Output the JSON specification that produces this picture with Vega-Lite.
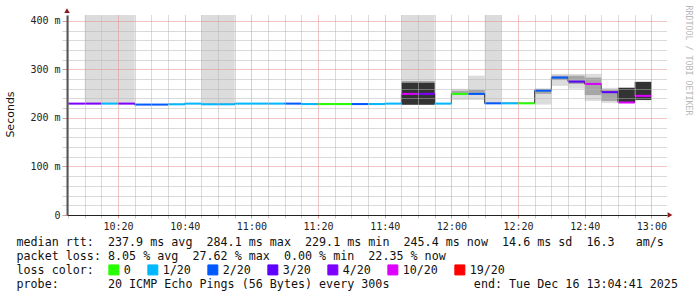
{
  "$schema": "https://vega.github.io/schema/vega-lite/v6.json",
  "width": 600,
  "height": 200,
  "autosize": "none",
  "padding": {"left": 67, "top": 15, "right": 30, "bottom": 82},
  "background": "white",
  "config": {
    "view": {"stroke": null},
    "font": "DejaVu Sans Mono",
    "axis": {"labelFont": "DejaVu Sans Mono", "titleFont": "DejaVu Sans Mono", "titleFontWeight": "normal", "labelColor": "#222", "titleColor": "#111"}
  },
  "data": {
    "values": [
      {"t": "2025-12-16T10:05:00", "t2": "2025-12-16T10:10:00", "median": 229.5, "loss": "4/20"},
      {"t": "2025-12-16T10:10:00", "t2": "2025-12-16T10:15:00", "median": 229.5, "loss": "4/20", "lo": 229.5, "hi": 412},
      {"t": "2025-12-16T10:15:00", "t2": "2025-12-16T10:20:00", "median": 229.5, "loss": "1/20", "lo": 229.5, "hi": 412},
      {"t": "2025-12-16T10:20:00", "t2": "2025-12-16T10:25:00", "median": 229.5, "loss": "4/20", "lo": 229.5, "hi": 412},
      {"t": "2025-12-16T10:25:00", "t2": "2025-12-16T10:30:00", "median": 227.5, "loss": "2/20"},
      {"t": "2025-12-16T10:30:00", "t2": "2025-12-16T10:35:00", "median": 227.5, "loss": "2/20"},
      {"t": "2025-12-16T10:35:00", "t2": "2025-12-16T10:40:00", "median": 228.0, "loss": "1/20"},
      {"t": "2025-12-16T10:40:00", "t2": "2025-12-16T10:45:00", "median": 229.5, "loss": "1/20"},
      {"t": "2025-12-16T10:45:00", "t2": "2025-12-16T10:50:00", "median": 228.0, "loss": "1/20", "lo": 228.0, "hi": 412},
      {"t": "2025-12-16T10:50:00", "t2": "2025-12-16T10:55:00", "median": 228.0, "loss": "1/20", "lo": 228.0, "hi": 412},
      {"t": "2025-12-16T10:55:00", "t2": "2025-12-16T11:00:00", "median": 229.5, "loss": "1/20"},
      {"t": "2025-12-16T11:00:00", "t2": "2025-12-16T11:05:00", "median": 229.5, "loss": "1/20"},
      {"t": "2025-12-16T11:05:00", "t2": "2025-12-16T11:10:00", "median": 229.5, "loss": "1/20"},
      {"t": "2025-12-16T11:10:00", "t2": "2025-12-16T11:15:00", "median": 229.5, "loss": "2/20"},
      {"t": "2025-12-16T11:15:00", "t2": "2025-12-16T11:20:00", "median": 228.5, "loss": "1/20"},
      {"t": "2025-12-16T11:20:00", "t2": "2025-12-16T11:25:00", "median": 228.5, "loss": "0"},
      {"t": "2025-12-16T11:25:00", "t2": "2025-12-16T11:30:00", "median": 228.5, "loss": "0"},
      {"t": "2025-12-16T11:30:00", "t2": "2025-12-16T11:35:00", "median": 228.5, "loss": "2/20"},
      {"t": "2025-12-16T11:35:00", "t2": "2025-12-16T11:40:00", "median": 228.5, "loss": "1/20"},
      {"t": "2025-12-16T11:40:00", "t2": "2025-12-16T11:45:00", "median": 229.5, "loss": "1/20"},
      {"t": "2025-12-16T11:45:00", "t2": "2025-12-16T11:50:00", "median": 249.5, "loss": "10/20", "lo": 276.3, "hi": 412, "mlo": 272.8, "mhi": 276.3, "dlo": 227.0, "dhi": 272.8},
      {"t": "2025-12-16T11:50:00", "t2": "2025-12-16T11:55:00", "median": 249.5, "loss": "4/20", "lo": 276.3, "hi": 412, "mlo": 272.8, "mhi": 276.3, "dlo": 227.0, "dhi": 272.8},
      {"t": "2025-12-16T11:55:00", "t2": "2025-12-16T12:00:00", "median": 229.5, "loss": "1/20"},
      {"t": "2025-12-16T12:00:00", "t2": "2025-12-16T12:05:00", "median": 249.5, "loss": "0", "lo": 237.0, "hi": 260.0, "mlo": 251.0, "mhi": 256.0},
      {"t": "2025-12-16T12:05:00", "t2": "2025-12-16T12:10:00", "median": 249.5, "loss": "2/20", "lo": 237.0, "hi": 287.0, "mlo": 251.5, "mhi": 257.5},
      {"t": "2025-12-16T12:10:00", "t2": "2025-12-16T12:15:00", "median": 230.0, "loss": "2/20", "lo": 230.0, "hi": 412},
      {"t": "2025-12-16T12:15:00", "t2": "2025-12-16T12:20:00", "median": 230.0, "loss": "1/20", "lo": 229.0, "hi": 233.0},
      {"t": "2025-12-16T12:20:00", "t2": "2025-12-16T12:25:00", "median": 230.0, "loss": "0", "lo": 229.0, "hi": 232.0},
      {"t": "2025-12-16T12:25:00", "t2": "2025-12-16T12:30:00", "median": 256.3, "loss": "2/20", "lo": 227.5, "hi": 260.5, "mlo": 249.5, "mhi": 259.8},
      {"t": "2025-12-16T12:30:00", "t2": "2025-12-16T12:35:00", "median": 283.1, "loss": "2/20", "lo": 266.0, "hi": 290.7, "mlo": 278.0, "mhi": 287.0},
      {"t": "2025-12-16T12:35:00", "t2": "2025-12-16T12:40:00", "median": 274.8, "loss": "3/20", "lo": 260.0, "hi": 290.7, "mlo": 270.0, "mhi": 287.0},
      {"t": "2025-12-16T12:40:00", "t2": "2025-12-16T12:45:00", "median": 270.1, "loss": "10/20", "lo": 235.0, "hi": 290.7, "mlo": 247.0, "mhi": 283.0},
      {"t": "2025-12-16T12:45:00", "t2": "2025-12-16T12:50:00", "median": 253.0, "loss": "3/20", "lo": 231.0, "hi": 262.0, "mlo": 235.0, "mhi": 258.0},
      {"t": "2025-12-16T12:50:00", "t2": "2025-12-16T12:55:00", "median": 231.8, "loss": "10/20", "lo": 230.0, "hi": 263.0, "dlo": 231.0, "dhi": 262.0},
      {"t": "2025-12-16T12:55:00", "t2": "2025-12-16T13:00:00", "median": 245.4, "loss": "10/20", "lo": 236.0, "hi": 276.0, "dlo": 237.0, "dhi": 274.0}
    ]
  },
  "layer": [
    {
      "mark": {"type": "rect", "color": "#dcdcdc"},
      "encoding": {
        "x": {"field": "t", "type": "temporal",
          "scale": {"domain": [{"year": 2025, "month": 12, "date": 16, "hours": 10, "minutes": 4, "seconds": 41}, {"year": 2025, "month": 12, "date": 16, "hours": 13, "minutes": 4, "seconds": 41}]},
          "axis": null},
        "x2": {"field": "t2"},
        "y": {"field": "lo", "type": "quantitative",
          "scale": {"domain": [0, 412], "nice": false, "zero": true},
          "axis": {"orient": "right", "grid": false, "labels": false, "ticks": false, "domain": false,
            "title": "RRDTOOL / TOBI OETIKER", "titleFont": "DejaVu Sans Mono", "titleAngle": 90, "titleX": 20.5, "titleY": -10, "titleAlign": "left", "titleBaseline": "middle", "titleFontSize": 8.3, "titleColor": "#b8b8b8"}},
        "y2": {"field": "hi"}
      }
    },
    {
      "mark": {"type": "rect", "color": "#a6a6a6"},
      "encoding": {
        "x": {"field": "t", "type": "temporal", "axis": null},
        "x2": {"field": "t2"},
        "y": {"field": "mlo", "type": "quantitative", "axis": null},
        "y2": {"field": "mhi"}
      }
    },
    {
      "mark": {"type": "rect", "color": "#333333"},
      "encoding": {
        "x": {"field": "t", "type": "temporal", "axis": null},
        "x2": {"field": "t2"},
        "y": {"field": "dlo", "type": "quantitative", "axis": null},
        "y2": {"field": "dhi"}
      }
    },
    {
      "mark": {"type": "line", "interpolate": "step-after", "color": "#222222", "strokeWidth": 1},
      "encoding": {
        "x": {"field": "t", "type": "temporal", "axis": null},
        "y": {"field": "median", "type": "quantitative", "axis": null}
      }
    },
    {
      "mark": {"type": "rule", "strokeWidth": 2},
      "encoding": {
        "x": {"field": "t", "type": "temporal",
          "axis": {"orient": "bottom", "values": [
              {"year": 2025, "month": 12, "date": 16, "hours": 10, "minutes": 5}, {"year": 2025, "month": 12, "date": 16, "hours": 10, "minutes": 10}, {"year": 2025, "month": 12, "date": 16, "hours": 10, "minutes": 15}, {"year": 2025, "month": 12, "date": 16, "hours": 10, "minutes": 20},
              {"year": 2025, "month": 12, "date": 16, "hours": 10, "minutes": 25}, {"year": 2025, "month": 12, "date": 16, "hours": 10, "minutes": 30}, {"year": 2025, "month": 12, "date": 16, "hours": 10, "minutes": 35}, {"year": 2025, "month": 12, "date": 16, "hours": 10, "minutes": 40},
              {"year": 2025, "month": 12, "date": 16, "hours": 10, "minutes": 45}, {"year": 2025, "month": 12, "date": 16, "hours": 10, "minutes": 50}, {"year": 2025, "month": 12, "date": 16, "hours": 10, "minutes": 55}, {"year": 2025, "month": 12, "date": 16, "hours": 11, "minutes": 0},
              {"year": 2025, "month": 12, "date": 16, "hours": 11, "minutes": 5}, {"year": 2025, "month": 12, "date": 16, "hours": 11, "minutes": 10}, {"year": 2025, "month": 12, "date": 16, "hours": 11, "minutes": 15}, {"year": 2025, "month": 12, "date": 16, "hours": 11, "minutes": 20},
              {"year": 2025, "month": 12, "date": 16, "hours": 11, "minutes": 25}, {"year": 2025, "month": 12, "date": 16, "hours": 11, "minutes": 30}, {"year": 2025, "month": 12, "date": 16, "hours": 11, "minutes": 35}, {"year": 2025, "month": 12, "date": 16, "hours": 11, "minutes": 40},
              {"year": 2025, "month": 12, "date": 16, "hours": 11, "minutes": 45}, {"year": 2025, "month": 12, "date": 16, "hours": 11, "minutes": 50}, {"year": 2025, "month": 12, "date": 16, "hours": 11, "minutes": 55}, {"year": 2025, "month": 12, "date": 16, "hours": 12, "minutes": 0},
              {"year": 2025, "month": 12, "date": 16, "hours": 12, "minutes": 5}, {"year": 2025, "month": 12, "date": 16, "hours": 12, "minutes": 10}, {"year": 2025, "month": 12, "date": 16, "hours": 12, "minutes": 15}, {"year": 2025, "month": 12, "date": 16, "hours": 12, "minutes": 20},
              {"year": 2025, "month": 12, "date": 16, "hours": 12, "minutes": 25}, {"year": 2025, "month": 12, "date": 16, "hours": 12, "minutes": 30}, {"year": 2025, "month": 12, "date": 16, "hours": 12, "minutes": 35}, {"year": 2025, "month": 12, "date": 16, "hours": 12, "minutes": 40},
              {"year": 2025, "month": 12, "date": 16, "hours": 12, "minutes": 45}, {"year": 2025, "month": 12, "date": 16, "hours": 12, "minutes": 50}, {"year": 2025, "month": 12, "date": 16, "hours": 12, "minutes": 55}, {"year": 2025, "month": 12, "date": 16, "hours": 13, "minutes": 0}
            ],
            "labelExpr": "minutes(datum.value) % 20 == 0 ? timeFormat(datum.value, '%H:%M') : ''",
            "grid": true, "gridDash": [1, 1], "gridOpacity": 1, "zindex": 1,
            "gridColor": {"condition": {"test": "minutes(datum.value) % 20 == 0", "value": "#e08a8a"}, "value": "#b4b4b4"},
            "domain": true, "domainColor": "#222", "domainWidth": 1, "ticks": true, "tickSize": 3,
            "tickColor": {"condition": {"test": "minutes(datum.value) % 20 == 0", "value": "#e09a9a"}, "value": "#c8c8c8"},
            "labelPadding": 3, "labelFontSize": 10, "labelFont": "DejaVu Sans Mono", "labelFlush": false, "labelOverlap": false,
            "title": ["median rtt:\u00a0\u00a0237.9 ms avg\u00a0\u00a0284.1 ms max\u00a0\u00a0229.1 ms min\u00a0\u00a0245.4 ms now\u00a0\u00a014.6 ms sd\u00a0\u00a016.3\u00a0\u00a0\u00a0am/s", "packet loss: 8.05 % avg\u00a0\u00a027.62 % max\u00a0\u00a00.00 % min\u00a0\u00a022.35 % now", "loss color:", "probe:\u00a0\u00a0\u00a0\u00a0\u00a0\u00a0\u00a020 ICMP Echo Pings (56 Bytes) every 300s\u00a0\u00a0\u00a0\u00a0\u00a0\u00a0\u00a0\u00a0\u00a0\u00a0\u00a0\u00a0end: Tue Dec 16 13:04:41 2025"],
            "titleFont": "DejaVu Sans Mono", "titleX": -51, "titleY": 21, "titleAlign": "left", "titleBaseline": "top", "titleFontSize": 11.7, "titleLineHeight": 14}},
        "x2": {"field": "t2"},
        "y": {"field": "median", "type": "quantitative",
          "axis": {"orient": "left", "values": [0, 20, 40, 60, 80, 100, 120, 140, 160, 180, 200, 220, 240, 260, 280, 300, 320, 340, 360, 380, 400],
            "labelExpr": "datum.value % 100 != 0 ? '' : datum.value == 0 ? '0' : datum.value + ' m'",
            "grid": true, "gridDash": [1, 1], "gridOpacity": 1, "zindex": 1,
            "gridColor": {"condition": {"test": "datum.value % 100 == 0", "value": "#e08a8a"}, "value": "#b4b4b4"},
            "domain": true, "domainColor": "#555", "domainWidth": 2, "ticks": true, "tickSize": 5,
            "tickColor": {"condition": {"test": "datum.value % 100 == 0", "value": "#e09a9a"}, "value": "#d0d0d0"},
            "labelPadding": 2, "labelFontSize": 10, "labelFont": "DejaVu Sans Mono", "labelOverlap": false,
            "title": "Seconds", "titleFont": "DejaVu Sans", "titleFontSize": 11, "titleAngle": 270, "titleX": -57, "titleY": 99, "titleAlign": "center", "titleBaseline": "middle"}},
        "color": {"field": "loss", "type": "nominal",
          "scale": {"domain": ["0", "1/20", "2/20", "3/20", "4/20", "10/20", "19/20"], "range": ["#26ff00", "#00b8ff", "#0059ff", "#5e00ff", "#7e00ff", "#dd00ff", "#ff0000"]},
          "legend": {"orient": "none", "legendX": 41, "legendY": 249, "direction": "horizontal", "columns": 7, "title": null, "padding": 0,
            "symbolType": "square", "symbolSize": 100, "symbolStrokeColor": "#000", "symbolStrokeWidth": 1, "symbolOpacity": 1,
            "labelFont": "DejaVu Sans Mono", "labelFontSize": 11.7, "labelColor": "#111", "labelOffset": 4, "columnPadding": 14, "labelLimit": 0,
            "encode": {"symbols": {"update": {"fill": {"scale": "color", "field": "value"}, "stroke": {"value": "#000000"}, "strokeWidth": {"value": 1}, "opacity": {"value": 1}}}}}}
      }
    },
    {
      "data": {"values": [{"arrow": "x"}]},
      "mark": {"type": "point", "shape": "triangle-right", "filled": true, "color": "#8b1a1a", "size": 30, "opacity": 1},
      "encoding": {
        "x": {"datum": {"year": 2025, "month": 12, "date": 16, "hours": 13, "minutes": 5, "seconds": 35}, "type": "temporal", "axis": null},
        "y": {"datum": 0, "type": "quantitative", "axis": null}
      }
    },
    {
      "data": {"values": [{"arrow": "y"}]},
      "mark": {"type": "point", "shape": "triangle-up", "filled": true, "color": "#8b1a1a", "size": 30, "opacity": 1},
      "encoding": {
        "x": {"datum": {"year": 2025, "month": 12, "date": 16, "hours": 10, "minutes": 4, "seconds": 41}, "type": "temporal", "axis": null},
        "y": {"datum": 421, "type": "quantitative", "axis": null}
      }
    }
  ],
  "resolve": {"axis": {"x": "independent", "y": "independent"}}
}
